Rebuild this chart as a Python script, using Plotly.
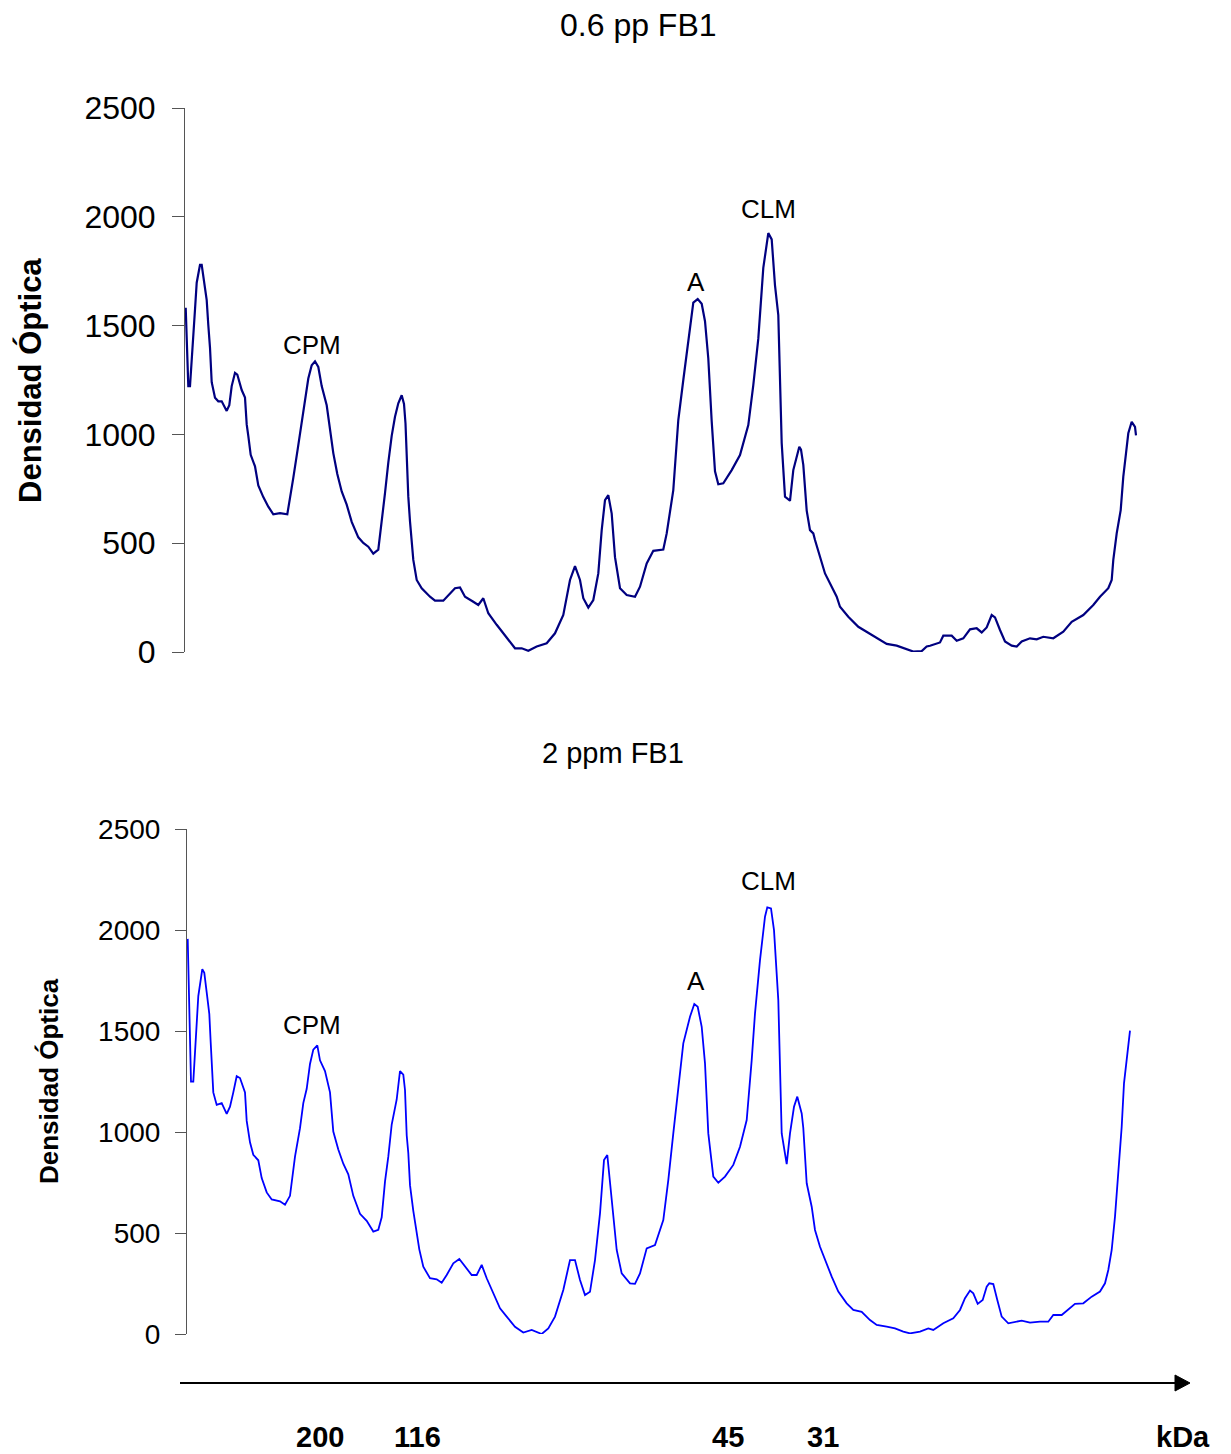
import plotly.graph_objects as go

# ---------------- data (migration distance vs optical density) ----------------
dist_top = [185.7, 188.3, 190, 191.7, 195, 196.7, 200, 201.7, 205, 206.7, 208.3, 210, 211.7, 215, 218.3,
            221.7, 226.7, 229.3, 231.7, 235, 237.3, 241.7, 245, 246.7, 248.3, 250.7, 255, 258.3, 263.3,
            268.3, 273.3, 280, 287.3, 290, 293.3, 297.7, 301.7, 305, 308.3, 311.7, 315, 318.3, 321.7,
            326.7, 330, 333.3, 337.3, 341.7, 346.7, 351.7, 358.3, 363.3, 368.3, 373.3, 378.3, 381.7, 385,
            388.3, 391.7, 395, 398.3, 401.7, 404, 405.5, 406.7, 408.3, 410, 411.7, 413.3, 416.7, 421.7,
            430, 435, 443.3, 448.3, 455, 460, 465, 473.3, 478.3, 483.3, 488.3, 496.7, 506.7, 515, 521.7,
            528.3, 536.7, 546.7, 555, 563.3, 570, 575, 580, 583.3, 588.3, 593.3, 598.3, 601.7, 605, 608.3,
            611.7, 615, 620, 626.7, 635, 640, 646.7, 653.3, 663.3, 666.7, 673.3, 678.3, 683.3, 688.3,
            693.3, 697.7, 701.7, 705, 708.3, 711.7, 715, 718.3, 723.3, 731.7, 740, 748.3, 753.3, 758.3,
            763.3, 768.3, 771.7, 775, 778.3, 781.7, 785, 790, 793.3, 799.3, 801, 803.3, 806.7, 810, 813.3,
            815, 820, 825, 831.7, 836.7, 840, 848.3, 858.3, 866.7, 876.7, 886.7, 896.7, 903.3, 913.3,
            921.7, 926.7, 930, 940, 943.3, 951.7, 956.7, 963.3, 970, 976.7, 981.7, 986.7, 991.7, 995,
            1000, 1005, 1011.7, 1016.7, 1021.7, 1030, 1036.7, 1043.3, 1053.3, 1063.3, 1071.7, 1083.3,
            1093.3, 1100, 1108.3, 1111.7, 1113.3, 1116.7, 1120.7, 1123.3, 1126, 1128.3, 1131.7, 1135, 1136]
od_top = [1582, 1222, 1222, 1327, 1574, 1697, 1779, 1779, 1679, 1617, 1503, 1398, 1240, 1169, 1152,
          1152, 1108, 1134, 1222, 1283, 1275, 1204, 1169, 1046, 993, 906, 853, 765, 712,
          668, 633, 638, 633, 703, 800, 932, 1064, 1169, 1257, 1318, 1336, 1310, 1222,
          1134, 1011, 914, 818, 738, 677, 598, 527, 501, 484, 452, 470, 589, 730,
          870, 993, 1081, 1143, 1180, 1140, 1050, 880, 714, 600, 484, 423, 331, 293,
          254, 236, 236, 262, 293, 297, 254, 231, 216, 247, 178, 125, 64, 17, 17,
          6, 25, 40, 86, 170, 331, 395, 331, 247, 204, 239, 361, 560, 698, 721,
          636, 436, 293, 262, 254, 300, 407, 465, 471, 545, 744, 1066, 1250, 1434,
          1606, 1622, 1600, 1520, 1349, 1060, 830, 771, 775, 836, 905, 1043, 1226, 1440,
          1765, 1925, 1896, 1685, 1548, 960, 714, 695, 836, 943, 930, 860, 650, 560, 545,
          515, 438, 361, 300, 254, 208, 162, 116, 93, 63, 37, 29, 17, 2,
          4, 25, 29, 44, 75, 75, 52, 63, 104, 109, 90, 113, 170, 159,
          101, 48, 29, 25, 48, 63, 58, 70, 63, 93, 139, 170,
          216, 254, 293, 331, 423, 545, 652, 806, 913, 1005, 1058, 1035, 996]

dist_bot = [187.7, 189.3, 190, 191, 193.3, 195, 196.7, 198.3, 202.3, 204.3, 206.7, 209.3, 210.7, 212,
            213.3, 216.7, 221.7, 226.7, 230, 233.3, 236.7, 240, 245, 246.7, 250, 253.3, 258.3, 261.7,
            266.7, 271.7, 280, 285, 290, 295, 300, 303.3, 306.7, 310, 313.3, 317.3, 320, 325, 330,
            333.3, 338.3, 343.3, 348.3, 353.3, 360, 366.7, 373.3, 378.3, 381.7, 385, 388.3, 391.7,
            396.7, 400, 403.3, 405, 406.7, 408.3, 410, 413.3, 416.7, 419.3, 423.3, 430, 436.7, 441.7,
            446.7, 453.3, 459.3, 465, 471.7, 476.7, 481.7, 486.7, 493.3, 500, 506.7, 515, 523.3, 531.7,
            541.7, 548.3, 555, 563.3, 570, 575, 580, 585, 590, 595, 600, 604, 607.3, 611.7, 616.7,
            621.7, 630, 635, 640, 646.7, 655, 663.3, 668.3, 673.3, 678.3, 683.3, 690, 694.3, 697.7,
            701.7, 705, 708.3, 713.3, 718.3, 725, 733.3, 740, 746.7, 751.7, 755, 760, 765, 767.3, 771,
            774, 778.3, 781.7, 786.7, 790, 794, 797.3, 801.7, 803.3, 805, 806.7, 811.7, 815, 820, 825,
            831.7, 838.3, 846.7, 853.3, 861.7, 870, 876.7, 886.7, 895, 903.3, 910, 920, 928.3, 933.3,
            943.3, 953.3, 960, 965, 970, 973.3, 977.7, 982.7, 986.7, 989.3, 993.3, 997.3, 1001.7,
            1008.3, 1016.7, 1021.7, 1030, 1040, 1048.3, 1053.3, 1061.7, 1066.7, 1075, 1083.3, 1091.7,
            1100, 1105, 1108.3, 1111.7, 1115, 1118.3, 1121.7, 1124, 1126.7, 1128.3, 1130]
od_bot = [1956, 1620, 1373, 1249, 1249, 1408, 1567, 1673, 1806, 1788, 1691, 1585, 1443, 1302,
          1196, 1134, 1143, 1090, 1125, 1196, 1276, 1267, 1196, 1055, 949, 887, 860, 772,
          701, 666, 657, 640, 684, 878, 1019, 1143, 1214, 1337, 1408, 1429, 1355, 1302, 1196,
          1002, 913, 843, 790, 684, 595, 560, 507, 516, 578, 754, 878, 1037,
          1161, 1302, 1284, 1208, 984, 896, 737, 610, 498, 419, 333, 276, 271, 254,
          292, 350, 371, 333, 292, 292, 342, 276, 201, 127, 86, 36, 7, 20,
          0, 28, 86, 218, 366, 366, 267, 193, 209, 366, 597, 861, 886, 647, 416,
          300, 251, 248, 300, 424, 440, 564, 762, 993, 1224, 1439, 1571, 1634, 1620,
          1521, 1340, 993, 779, 749, 779, 837, 927, 1059, 1356, 1587, 1851, 2066, 2112, 2107,
          1999, 1653, 993, 841, 993, 1125, 1175, 1092, 1020, 861, 746, 630, 515, 432, 366,
          284, 210, 152, 119, 110, 69, 45, 36, 28, 12, 3, 12, 28, 20,
          53, 78, 119, 177, 215, 201, 149, 168, 234, 251, 247, 168, 86,
          53, 61, 66, 56, 61, 61, 94, 94, 115, 149, 152, 185,
          210, 251, 317, 416, 581, 795, 1026, 1241, 1356, 1455, 1502]

y_ticks = [0, 500, 1000, 1500, 2000, 2500]
titles = ["0.6 pp FB1", "2 ppm FB1"]
y_title = "Densidad Óptica"
peak_labels = ["CPM", "A", "CLM"]
kda_labels = ["200", "116", "45", "31", "kDa"]

# ---------------- layout helpers ----------------
W, H = 1231, 1454
def fx(px):
    return px / W
def fy(py):
    return 1 - py / H

FONT = "Liberation Sans, Arial, sans-serif"

fig = go.Figure()
fig.add_trace(go.Scatter(x=dist_top, y=od_top, mode="lines", xaxis="x", yaxis="y",
                         line=dict(color="#000080", width=2.2), showlegend=False, hoverinfo="skip"))
fig.add_trace(go.Scatter(x=dist_bot, y=od_bot, mode="lines", xaxis="x2", yaxis="y2",
                         line=dict(color="#0000FF", width=1.8), showlegend=False, hoverinfo="skip"))

yax_common = dict(range=[0, 2500], tickvals=y_ticks, showline=True, linecolor="#555555", linewidth=1,
                  ticks="outside", tickcolor="#555555", showgrid=False, zeroline=False,
                  fixedrange=True, automargin=False)

fig.update_layout(
    template="none",
    width=W, height=H, margin=dict(l=0, r=0, t=0, b=0, pad=0, autoexpand=False),
    paper_bgcolor="white", plot_bgcolor="rgba(0,0,0,0)",
    xaxis=dict(domain=[fx(185), fx(1185)], range=[185, 1185], visible=False, anchor="y", automargin=False),
    yaxis=dict(domain=[fy(652), fy(108)], anchor="x", ticklen=12, ticklabelstandoff=10,
               tickfont=dict(family=FONT, size=32, color="black"), **yax_common),
    xaxis2=dict(domain=[fx(187), fx(1187)], range=[187, 1187], visible=False, anchor="y2", automargin=False),
    yaxis2=dict(domain=[fy(1334), fy(829)], anchor="x2", ticklen=11, ticklabelstandoff=9,
                tickfont=dict(family=FONT, size=28, color="black"), **yax_common),
)

ann = []
ann.append(dict(text=titles[0], x=fx(638), y=fy(25), font=dict(family=FONT, size=32, color="black")))
ann.append(dict(text=titles[1], x=fx(613), y=fy(753), font=dict(family=FONT, size=29, color="black")))
ann.append(dict(text="<b>" + y_title + "</b>", x=fx(30), y=fy(381), textangle=-90,
                font=dict(family=FONT, size=31, color="black")))
ann.append(dict(text="<b>" + y_title + "</b>", x=fx(49), y=fy(1081), textangle=-90,
                font=dict(family=FONT, size=26, color="black")))
for lab, (px, py) in zip(peak_labels, [(312, 345), (696, 282), (768, 209)]):
    ann.append(dict(text=lab, x=fx(px), y=fy(py), font=dict(family=FONT, size=26, color="black")))
for lab, (px, py) in zip(peak_labels, [(312, 1025), (696, 981), (768, 881)]):
    ann.append(dict(text=lab, x=fx(px), y=fy(py), font=dict(family=FONT, size=26, color="black")))
for lab, px in zip(kda_labels, [320, 417, 728, 823, 1183]):
    ann.append(dict(text="<b>" + lab + "</b>", x=fx(px), y=fy(1437), font=dict(family=FONT, size=29, color="black")))
for a in ann:
    a.update(xref="paper", yref="paper", showarrow=False, xanchor="center", yanchor="middle")
fig.update_layout(annotations=ann)

fig.add_shape(type="line", xref="paper", yref="paper", x0=fx(180), y0=fy(1383), x1=fx(1178), y1=fy(1383),
              line=dict(color="black", width=2))
fig.add_shape(type="path", xref="paper", yref="paper",
              path=f"M {fx(1175)} {fy(1375)} L {fx(1190)} {fy(1383)} L {fx(1175)} {fy(1391)} Z",
              fillcolor="black", line=dict(color="black", width=1))

fig.write_html("out.html")
